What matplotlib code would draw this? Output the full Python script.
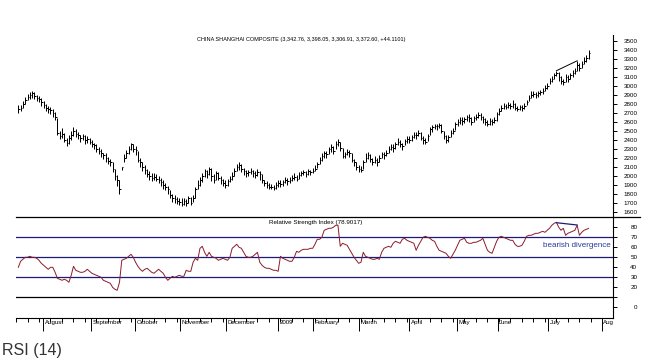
import numpy as np
import matplotlib.pyplot as plt
from matplotlib.ticker import MultipleLocator
from matplotlib.transforms import blended_transform_factory

plt.rcParams['font.family'] = ['Liberation Sans', 'DejaVu Sans']

# ---- daily bars, one per trading day (mid Jul 2008 .. Jul 2009)
close = [
    2740, 2760, 2800, 2850, 2880, 2900, 2920, 2890, 2870, 2860,
    2820, 2790, 2760, 2740, 2730, 2700, 2660, 2480, 2440, 2470,
    2400, 2370, 2420, 2460, 2500, 2470, 2450, 2420, 2440, 2400,
    2410, 2380, 2360, 2340, 2300, 2280, 2250, 2230, 2200, 2170,
    2150, 2080, 2000, 1950, 1860, 2100, 2200, 2250, 2300, 2360,
    2300, 2290, 2180, 2150, 2100, 2070, 2020, 2000, 1980, 1990,
    1970, 1950, 1930, 1900, 1880, 1850, 1790, 1760, 1740, 1720,
    1710, 1690, 1720, 1700, 1750, 1700, 1760, 1860, 1900, 1950,
    2000, 2050, 2020, 2080, 2000, 1960, 2030, 1980, 1950, 1920,
    1900, 1940, 1970, 2000, 2060, 2100, 2120, 2080, 2050, 2030,
    2040, 2060, 2030, 2010, 2040, 2020, 1960, 1920, 1900, 1880,
    1880, 1870, 1900, 1920, 1910, 1930, 1960, 1940, 1950, 1980,
    1990, 1970, 2010, 2030, 2040, 2020, 2050, 2040, 2060, 2080,
    2130, 2180, 2220, 2250, 2240, 2300, 2320, 2280, 2350, 2380,
    2310, 2220, 2240, 2270, 2250, 2180, 2150, 2100, 2080, 2070,
    2150, 2200, 2230, 2190, 2160, 2180, 2150, 2200, 2240, 2230,
    2260, 2300, 2320, 2310, 2350, 2380, 2360, 2330, 2390, 2410,
    2400, 2430, 2460, 2450, 2480, 2420, 2400, 2380, 2440, 2520,
    2540, 2560, 2550, 2570, 2500, 2440, 2400, 2430, 2480, 2500,
    2580, 2600, 2620, 2610, 2630, 2650, 2640, 2600, 2640, 2660,
    2680, 2650, 2630, 2600, 2580, 2610, 2600, 2620, 2690, 2720,
    2750, 2780, 2770, 2790, 2780, 2800, 2760, 2740, 2770, 2750,
    2780, 2820, 2870, 2900, 2910, 2900, 2920, 2930, 2950, 2980,
    3000, 3060, 3080, 3120, 3150, 3100, 3060, 3040, 3100, 3080,
    3120, 3140, 3170, 3230, 3200, 3250, 3280, 3310, 3370,
]
high = [
    2790, 2790, 2830, 2880, 2910, 2930, 2940, 2930, 2900, 2890,
    2870, 2830, 2800, 2780, 2770, 2740, 2710, 2640, 2500, 2530,
    2480, 2420, 2450, 2500, 2540, 2520, 2490, 2460, 2470, 2450,
    2440, 2420, 2400, 2370, 2350, 2320, 2300, 2260, 2250, 2210,
    2190, 2150, 2080, 2010, 1960, 2100, 2240, 2290, 2330, 2370,
    2350, 2330, 2280, 2200, 2160, 2120, 2080, 2050, 2030, 2030,
    2020, 2000, 1980, 1950, 1920, 1890, 1840, 1800, 1790, 1770,
    1760, 1750, 1760, 1740, 1780, 1770, 1790, 1880, 1960, 1990,
    2030, 2080, 2070, 2100, 2090, 2020, 2060, 2040, 2000, 1970,
    1950, 1970, 2000, 2040, 2090, 2130, 2150, 2130, 2090, 2070,
    2070, 2090, 2070, 2050, 2080, 2060, 2020, 1960, 1940, 1920,
    1910, 1900, 1930, 1960, 1950, 1960, 1990, 1980, 1990, 2010,
    2030, 2010, 2040, 2060, 2070, 2060, 2080, 2070, 2090, 2120,
    2150, 2210, 2250, 2280, 2280, 2320, 2350, 2330, 2390, 2410,
    2380, 2310, 2270, 2300, 2290, 2250, 2190, 2160, 2120, 2110,
    2180, 2250, 2270, 2240, 2200, 2220, 2200, 2230, 2270, 2270,
    2290, 2330, 2360, 2350, 2380, 2420, 2400, 2370, 2410, 2440,
    2440, 2460, 2490, 2490, 2510, 2490, 2440, 2420, 2470, 2540,
    2570, 2580, 2580, 2590, 2580, 2500, 2450, 2460, 2510, 2530,
    2600, 2630, 2650, 2650, 2660, 2680, 2690, 2650, 2670, 2690,
    2710, 2700, 2670, 2640, 2620, 2640, 2630, 2650, 2710, 2750,
    2790, 2810, 2800, 2820, 2810, 2840, 2810, 2780, 2790, 2790,
    2810, 2850, 2900, 2940, 2940, 2930, 2950, 2960, 2980, 3010,
    3030, 3090, 3110, 3150, 3170, 3160, 3110, 3080, 3130, 3120,
    3150, 3180, 3200, 3280, 3260, 3280, 3320, 3340, 3400,
]
low = [
    2700, 2720, 2750, 2800, 2840, 2860, 2870, 2860, 2830, 2820,
    2780, 2750, 2720, 2700, 2690, 2650, 2620, 2460, 2410, 2420,
    2380, 2330, 2360, 2400, 2440, 2430, 2410, 2380, 2400, 2360,
    2370, 2350, 2320, 2300, 2270, 2240, 2210, 2190, 2150, 2130,
    2110, 2040, 1960, 1890, 1800, 2070, 2150, 2200, 2240, 2290,
    2270, 2230, 2150, 2100, 2060, 2020, 1990, 1960, 1940, 1950,
    1940, 1920, 1890, 1860, 1840, 1800, 1750, 1710, 1700, 1690,
    1680, 1665, 1680, 1670, 1700, 1680, 1710, 1760, 1850, 1890,
    1930, 1990, 1980, 2010, 1940, 1920, 1960, 1950, 1910, 1890,
    1870, 1890, 1930, 1960, 2000, 2050, 2070, 2040, 2010, 1990,
    2000, 2020, 1990, 1980, 2000, 1950, 1920, 1890, 1870, 1860,
    1850, 1840, 1860, 1880, 1880, 1890, 1920, 1900, 1920, 1940,
    1960, 1940, 1970, 2000, 2010, 1990, 2010, 2010, 2030, 2050,
    2090, 2130, 2170, 2200, 2200, 2240, 2270, 2240, 2300, 2330,
    2280, 2200, 2200, 2230, 2210, 2160, 2110, 2070, 2040, 2040,
    2080, 2150, 2190, 2160, 2120, 2140, 2110, 2150, 2200, 2190,
    2220, 2260, 2290, 2270, 2300, 2340, 2320, 2290, 2340, 2370,
    2370, 2390, 2420, 2410, 2440, 2400, 2360, 2350, 2390, 2450,
    2490, 2520, 2510, 2530, 2480, 2410, 2370, 2380, 2430, 2470,
    2510, 2560, 2580, 2570, 2590, 2610, 2600, 2570, 2600, 2620,
    2640, 2620, 2590, 2570, 2550, 2570, 2570, 2590, 2610, 2680,
    2720, 2740, 2740, 2750, 2740, 2760, 2730, 2720, 2730, 2720,
    2740, 2790, 2830, 2870, 2880, 2870, 2880, 2900, 2910, 2940,
    2970, 3020, 3050, 3080, 3110, 3060, 3020, 3010, 3050, 3040,
    3080, 3100, 3130, 3170, 3170, 3200, 3240, 3270, 3300,
]
rsi = [
    40, 46, 48, 50, 50, 51, 50, 50, 49, 47,
    44, 42, 40, 38, 40, 40, 35, 29, 28, 27,
    28, 27, 25, 32, 41, 37, 36, 35, 35, 36,
    38, 36, 34, 33, 32, 31, 30, 27, 26, 25,
    24, 20, 18, 17, 25, 47, 48, 49, 51, 53,
    50, 45, 41, 38, 36, 38, 39, 37, 35, 34,
    36, 38, 36, 34, 30, 27, 29, 31, 30, 31,
    32, 31, 31, 37, 36, 36, 45, 49, 47, 59,
    61, 55, 51, 55, 51, 50, 49, 47, 48, 49,
    48, 47, 50, 59, 61, 63, 60, 59, 55, 51,
    50, 50, 51, 53, 55, 45, 42, 40, 39, 39,
    38, 37, 37, 36, 51, 49, 48, 47, 46, 46,
    50, 56, 55, 57, 58, 58, 58, 59, 59, 63,
    68, 68, 70, 77, 78, 79, 79, 80, 82, 82,
    61, 64, 63, 62, 58, 54, 50, 47, 44, 45,
    55, 51, 50, 49, 48, 48, 49, 48, 55, 59,
    60, 61, 60, 64, 66, 65, 64, 68, 69, 67,
    66, 65, 64, 57, 62, 66, 70, 71, 70, 69,
    67, 66, 61, 57, 56, 55, 54, 51, 49, 53,
    57, 62, 67, 68, 69, 65, 64, 64, 65, 65,
    66, 67, 69, 63, 57, 55, 54, 60, 66, 70,
    71, 70, 69, 68, 67, 67, 63, 61, 61, 62,
    66, 71, 72, 72, 73, 74, 74, 75, 76, 75,
    77, 79, 82, 84, 85, 80, 77, 79, 72, 74,
    75, 76, 77, 82, 72, 75, 77, 78, 78.9,
]

# divergence lines (bar index, value)
price_trend_x = [235, 244]
price_trend_y = [3170, 3280]
rsi_trend_x = [235, 244]
rsi_trend_y = [84.6, 82.3]

month_labels = ["August", "September", "October", "November", "December", "2009",
                "February", "March", "April", "May", "June", "July", "Aug"]
month_pos = [11.9, 32.6, 51.7, 71.4, 91.2, 114.0, 129.1, 149.1, 171.0, 191.6,
             209.4, 231.4, 254.7]

price_ticks = list(range(1600, 3600, 100))
rsi_ticks = [0, 10, 20, 30, 40, 50, 60, 70, 80]
rsi_tick_labels = ["0", "", "20", "30", "40", "50", "60", "70", "80"]

bar_x = np.arange(1, len(close) + 1)

NAVY = "#1c1c78"
RSI_RED = "#8c1c2c"
XMAX = 259.6

fig = plt.figure(figsize=(6.64, 3.63), dpi=100)

# ---- price panel
ax_p = fig.add_axes([0.0241, 0.4022, 0.8991, 0.5014])
ax_p.vlines(bar_x, low, high, color="black", lw=0.72)
ax_p.hlines(close, bar_x, bar_x + 0.7, color="black", lw=0.72)
ax_p.plot(price_trend_x, price_trend_y, color="black", lw=0.7)
ax_p.set_xlim(0, XMAX)
ax_p.set_ylim(1544, 3567)
for side in ("top", "left", "bottom"):
    ax_p.spines[side].set_visible(False)
ax_p.spines["right"].set_linewidth(0.8)
ax_p.set_xticks([])
ax_p.yaxis.tick_right()
ax_p.set_yticks(price_ticks)
ax_p.tick_params(axis="y", direction="out", length=3, width=0.7,
                 labelsize=4.5, pad=14.5, colors="black")
for t in ax_p.yaxis.get_major_ticks():
    t.label2.set_horizontalalignment("right")
ax_p.text(0.477, 0.9725,
          "CHINA SHANGHAI COMPOSITE (3,342.76, 3,398.05, 3,306.91, 3,372.60, +44.1101)",
          transform=ax_p.transAxes, ha="center", va="center", fontsize=3.95)

# ---- RSI panel
ax_r = fig.add_axes([0.0241, 0.124, 0.8991, 0.2782])
ax_r.axhline(90, xmin=0, xmax=1.045, color="black", lw=0.9, clip_on=False)
ax_r.axhline(10, color="black", lw=0.9)
for lvl in (70, 50, 30):
    ax_r.axhline(lvl, color=NAVY, lw=0.9)
ax_r.plot(bar_x, rsi, color=RSI_RED, lw=0.7)
ax_r.plot(rsi_trend_x, rsi_trend_y, color=NAVY, lw=0.9)
ax_r.set_xlim(0, XMAX)
ax_r.set_ylim(-10.7, 90.3)
for side in ("top", "left"):
    ax_r.spines[side].set_visible(False)
ax_r.spines["right"].set_linewidth(0.8)
ax_r.spines["bottom"].set_linewidth(0.8)
ax_r.yaxis.tick_right()
ax_r.set_yticks(rsi_ticks)
ax_r.set_yticklabels(rsi_tick_labels)
ax_r.tick_params(axis="y", direction="out", length=3, width=0.7,
                 labelsize=4.5, pad=14.5)
for t in ax_r.yaxis.get_major_ticks():
    t.label2.set_horizontalalignment("right")

ax_r.set_xticks(month_pos)
ax_r.set_xticklabels([])
ax_r.xaxis.set_minor_locator(MultipleLocator(5))
ax_r.tick_params(axis="x", which="major", direction="out", length=9, width=0.7)
ax_r.tick_params(axis="x", which="minor", direction="out", length=3, width=0.7)
trans = blended_transform_factory(ax_r.transData, ax_r.transAxes)
for pos, lbl in zip(month_pos, month_labels):
    ax_r.text(pos + 0.6, -0.045, lbl, transform=trans, ha="left", va="center",
              fontsize=4.4)

ax_r.text(0.5017, 85.3, "Relative Strength Index (78.9017)",
          transform=blended_transform_factory(ax_r.transAxes, ax_r.transData),
          ha="center", va="center", fontsize=4.5)
ax_r.text(229.1, 61.3, "bearish divergence", color="#2a3a9a",
          ha="left", va="center", fontsize=5.8)

fig.text(0.003, 0.0358, "RSI (14)", ha="left", va="center",
         fontsize=11.5, color="#333333")

fig.savefig("out.png", dpi=100)
